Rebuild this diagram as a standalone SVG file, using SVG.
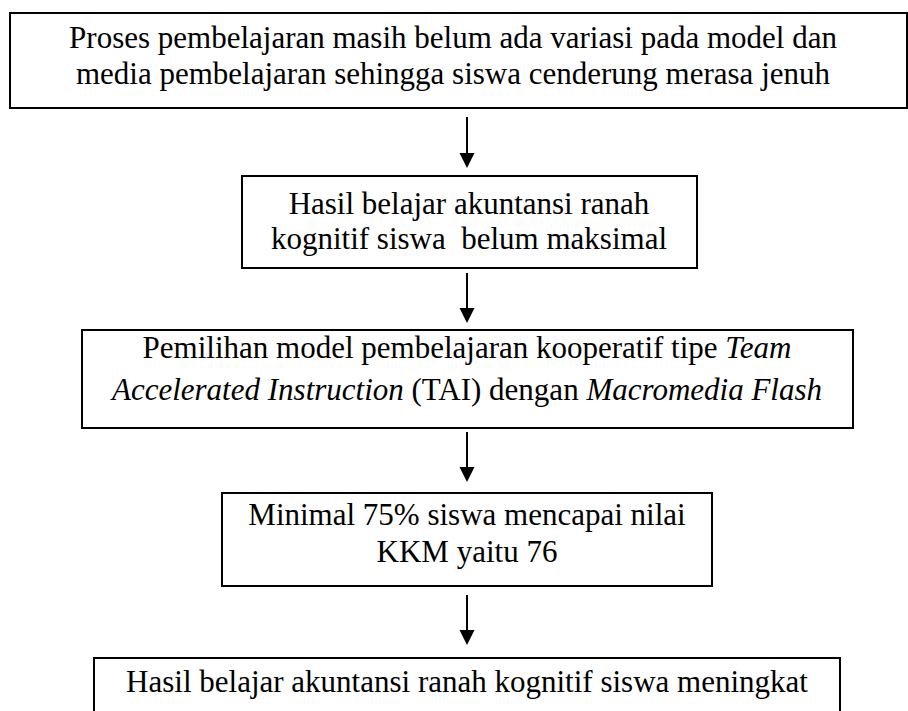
<svg xmlns="http://www.w3.org/2000/svg" width="908" height="711" viewBox="0 0 908 711">
<style>
.box{fill:#fff;stroke:#000;stroke-width:2}
.t{font-family:"Liberation Serif","Times New Roman",serif;font-size:31px;fill:#000;text-anchor:middle}
.i{font-style:italic}
.c{stroke:#000;stroke-width:2;fill:none}
</style>
<rect width="908" height="711" fill="#fff"/>
<g id="connectors">
<path class="c" d="M467,117 V153"/><path d="M459.5,153 L474.5,153 L467,168 Z"/>
<path class="c" d="M467,273 V308"/><path d="M459.5,308 L474.5,308 L467,323 Z"/>
<path class="c" d="M467,432 V467"/><path d="M459.5,467 L474.5,467 L467,482 Z"/>
<path class="c" d="M467,595 V630"/><path d="M459.5,630 L474.5,630 L467,645 Z"/>
</g>
<g id="n1">
<rect class="box" x="10" y="13" width="897" height="95"/>
<text class="t" x="453" y="48">Proses pembelajaran masih belum ada variasi pada model dan</text>
<text class="t" x="453" y="84">media pembelajaran sehingga siswa cenderung merasa jenuh</text>
</g>
<g id="n2">
<rect class="box" x="242" y="176" width="455" height="92"/>
<text class="t" x="469" y="214">Hasil belajar akuntansi ranah</text>
<text class="t" x="469" y="249" xml:space="preserve">kognitif siswa  belum maksimal</text>
</g>
<g id="n3">
<rect class="box" x="82" y="330" width="771" height="98"/>
<text class="t" x="467" y="358">Pemilihan model pembelajaran kooperatif tipe <tspan class="i">Team</tspan></text>
<text class="t" x="467" y="400"><tspan class="i">Accelerated Instruction</tspan> (TAI) dengan <tspan class="i">Macromedia Flash</tspan></text>
</g>
<g id="n4">
<rect class="box" x="222" y="493" width="490" height="93"/>
<text class="t" x="467" y="525">Minimal 75% siswa mencapai nilai</text>
<text class="t" x="467" y="562">KKM yaitu 76</text>
</g>
<g id="n5">
<rect class="box" x="94" y="658" width="746" height="60"/>
<text class="t" x="467" y="692">Hasil belajar akuntansi ranah kognitif siswa meningkat</text>
</g>
</svg>
